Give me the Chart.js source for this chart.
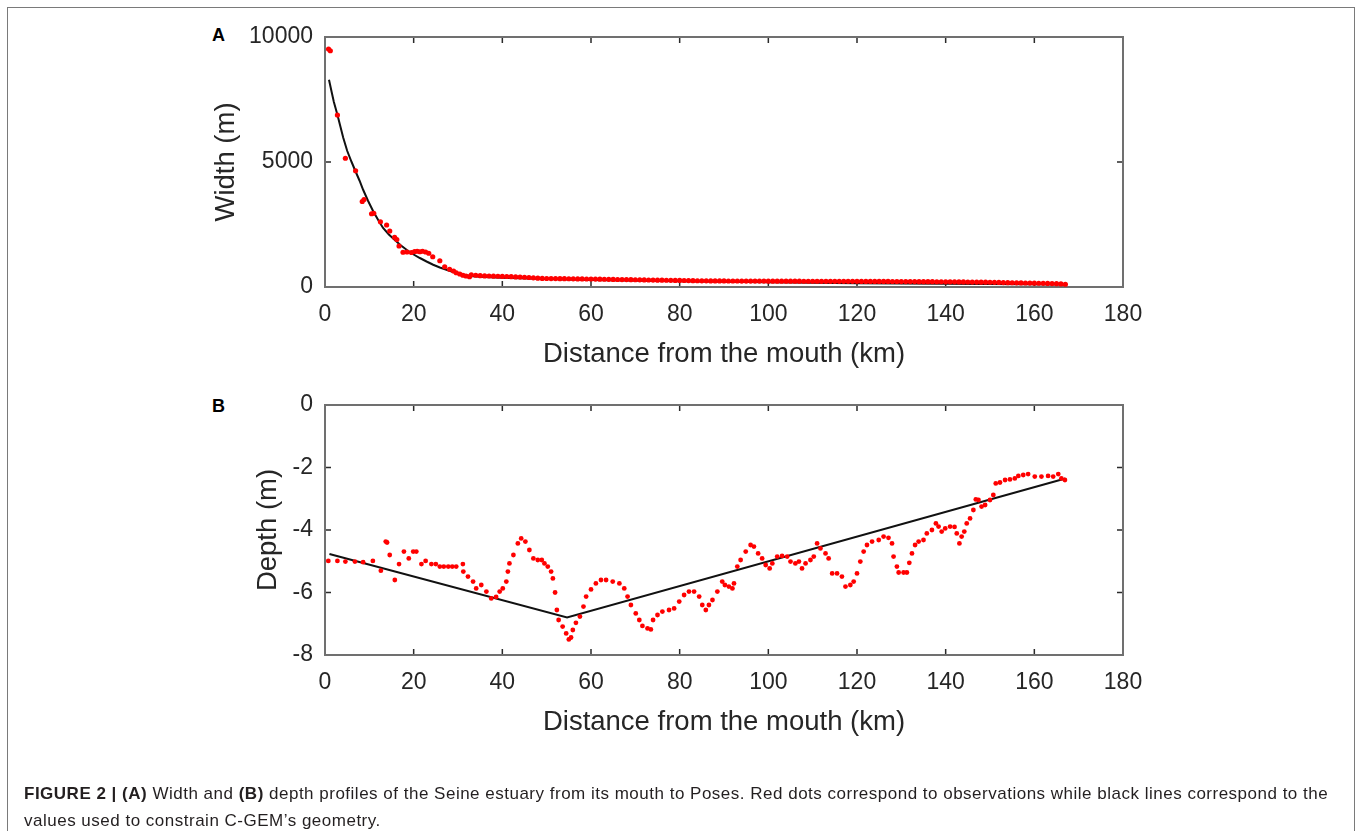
<!DOCTYPE html>
<html><head><meta charset="utf-8">
<script src="https://cdn.jsdelivr.net/npm/chart.js@4.4.1/dist/chart.umd.min.js"></script>
<style>
html,body{margin:0;padding:0;background:#fff;}
body{width:1360px;height:831px;position:relative;overflow:hidden;font-family:"Liberation Sans",Arial,sans-serif;}
#frame{position:absolute;left:7px;top:7px;width:1348px;height:860px;border:1.5px solid #7a7a7a;box-sizing:border-box;}
canvas.cv{position:absolute;left:0;top:0;}
.lab{position:absolute;font-weight:bold;font-size:18px;line-height:18px;color:#000;}
#cap{position:absolute;left:24px;top:780px;font-size:17px;letter-spacing:0.5px;line-height:27px;color:#231f20;white-space:nowrap;}
</style>
</head><body>
<div id="frame"></div>
<div class="lab" style="left:212px;top:26px;">A</div>
<div class="lab" style="left:212px;top:397px;">B</div>
<canvas id="cA" class="cv" width="1360" height="831"></canvas>
<canvas id="cB" class="cv" width="1360" height="831"></canvas>
<div id="cap"><b>FIGURE 2 | (A)</b> Width and <b>(B)</b> depth profiles of the Seine estuary from its mouth to Poses. Red dots correspond to observations while black lines correspond to the<br>values used to constrain C-GEM’s geometry.</div>
<script>
// ---------- Panel A : width ----------
const widthObsKm = [0.8,1.2,2.8,4.6,6.9,8.4,8.8,10.5,11.0,12.5,13.9,14.6,15.7,16.2,16.7,17.6,18.5,19.5,20.2,20.8,21.4,22.0,22.7,23.4,24.3,25.9,27.0,28.1,29.0,29.6,30.4,31.1,31.8,32.6,
33,34,35,36,37,38,39,40,41,42,43,44,45,46,47,48,49,50,51,52,53,54,55,56,57,58,59,60,61,62,63,64,65,66,67,68,69,70,
71,72,73,74,75,76,77,78,79,80,81,82,83,84,85,86,87,88,89,90,91,92,93,94,95,96,97,98,99,100,101,102,103,104,105,106,107,108,109,110,
111,112,113,114,115,116,117,118,119,120,121,122,123,124,125,126,127,128,129,130,131,132,133,134,135,136,137,138,139,140,
141,142,143,144,145,146,147,148,149,150,151,152,153,154,155,156,157,158,159,160,161,162,163,164,165,166,167];
const widthObsM = [9520,9450,6880,5150,4650,3420,3500,2930,2950,2610,2480,2240,1990,1900,1640,1390,1400,1380,1420,1430,1410,1430,1400,1350,1210,1050,810,710,640,570,520,470,440,410,
490,470,455,445,440,435,430,425,420,412,405,398,390,380,368,352,345,340,338,336,334,332,330,327,325,323,321,320,316,314,311,308,305,301,299,296,293,291,
287,284,281,278,275,272,270,267,265,262,260,257,254,251,249,247,245,244,243,242,241,240,240,239,238,238,237,236,236,235,235,234,234,233,233,232,232,231,231,230,
230,229,229,228,228,228,227,227,226,226,225,225,224,224,223,222,222,221,220,219,218,217,216,215,214,213,212,211,210,209,
207,206,204,203,201,199,197,195,192,190,186,182,178,174,170,167,164,160,157,154,150,146,142,138,133,125,110];
const widthFitKm = [0.9,1.5,2.0,2.8,3.5,4.1,5.0,6.0,6.9,7.8,8.6,9.7,10.9,12.0,13.1,14.4,15.75,17.0,18.4,19.9,21.4,22.9,24.4,25.9,27.4,28.9,30.4,31.9,33.4,36,40,50,60,80,100,120,140,167];
const widthFitM  = [8290,7800,7400,6890,6400,5980,5450,5000,4620,4250,3890,3450,3020,2680,2360,2100,1880,1680,1490,1310,1160,1020,890,780,690,600,530,470,425,395,370,315,275,225,185,150,125,105];
const widthTicksX = [0,20,40,60,80,100,120,140,160,180];
const widthTicksY = [0,5000,10000];

// ---------- Panel B : depth ----------
const depthObsKm = [0.75,2.8,4.6,6.75,8.6,10.8,12.6,13.7,14.0,14.6,15.75,16.7,17.8,18.9,19.9,20.6,21.75,22.7,24.0,25.0,25.9,26.8,27.8,28.7,29.6,31.1,31.2,32.25,33.4,34.1,35.25,36.4,37.5,38.6,39.4,40.1,40.9,41.25,41.6,42.5,43.5,44.25,45.2,46.1,47.0,48.0,48.9,49.5,50.25,51.0,51.4,51.9,52.3,52.7,53.6,54.4,55.0,55.5,55.9,56.6,57.5,58.3,58.9,60.0,61.1,62.25,63.4,64.9,66.4,67.5,68.25,69.0,70.1,70.9,71.6,72.75,73.5,74.0,75.0,76.1,77.6,78.75,79.9,81.0,82.1,83.25,84.4,85.1,85.9,86.6,87.4,88.5,89.6,90.2,91.1,91.9,92.25,93.0,93.75,94.9,96.0,96.75,97.7,98.6,99.4,100.3,100.9,102.0,103.1,104.25,105.0,106.1,106.9,107.6,108.4,109.5,110.25,111.0,111.75,112.9,113.6,114.4,115.5,116.6,117.4,118.5,119.25,120.0,120.75,121.5,122.25,123.4,124.9,126.0,127.1,127.9,128.25,129.0,129.4,130.5,131.25,131.8,132.4,133.1,133.9,135.0,135.75,136.9,137.8,138.4,139.1,139.9,141.0,142.0,142.5,143.1,143.6,144.2,144.75,145.5,146.25,146.8,147.4,148.1,148.9,150.0,150.75,151.3,152.25,153.4,154.5,155.6,156.4,157.5,158.6,160.1,161.6,163.1,164.25,165.4,166.1,166.9];
const depthObsM = [-4.99,-4.99,-5.01,-5.01,-5.03,-4.99,-5.30,-4.37,-4.40,-4.80,-5.60,-5.09,-4.69,-4.91,-4.69,-4.69,-5.09,-4.99,-5.09,-5.09,-5.17,-5.17,-5.17,-5.17,-5.17,-5.09,-5.33,-5.49,-5.65,-5.87,-5.76,-5.97,-6.19,-6.14,-5.97,-5.87,-5.65,-5.33,-5.07,-4.80,-4.43,-4.27,-4.37,-4.64,-4.91,-4.96,-4.96,-5.07,-5.17,-5.33,-5.55,-6.00,-6.56,-6.88,-7.09,-7.31,-7.50,-7.44,-7.20,-6.97,-6.77,-6.45,-6.13,-5.90,-5.71,-5.60,-5.60,-5.65,-5.71,-5.87,-6.13,-6.40,-6.67,-6.88,-7.07,-7.15,-7.18,-6.88,-6.72,-6.61,-6.56,-6.51,-6.29,-6.08,-5.97,-5.97,-6.13,-6.40,-6.56,-6.40,-6.24,-5.97,-5.65,-5.76,-5.81,-5.87,-5.71,-5.17,-4.96,-4.69,-4.48,-4.53,-4.75,-4.91,-5.12,-5.23,-5.07,-4.85,-4.83,-4.85,-5.01,-5.07,-5.01,-5.23,-5.07,-4.96,-4.85,-4.43,-4.59,-4.75,-4.91,-5.39,-5.39,-5.49,-5.81,-5.76,-5.65,-5.39,-5.01,-4.69,-4.48,-4.37,-4.32,-4.21,-4.25,-4.43,-4.85,-5.17,-5.36,-5.36,-5.36,-5.05,-4.75,-4.48,-4.37,-4.32,-4.11,-4.00,-3.79,-3.89,-4.05,-3.95,-3.89,-3.90,-4.11,-4.43,-4.21,-4.05,-3.79,-3.63,-3.36,-3.02,-3.04,-3.25,-3.20,-3.04,-2.88,-2.51,-2.48,-2.40,-2.38,-2.35,-2.27,-2.24,-2.21,-2.29,-2.29,-2.27,-2.29,-2.21,-2.35,-2.40];
const depthFitKm = [1,54.6,167];
const depthFitM  = [-4.77,-6.8,-2.35];
const depthTicksY = [-8,-6,-4,-2,0];

const xTitle = 'Distance from the mouth (km)';
const yTitleA = 'Width (m)';
const yTitleB = 'Depth (m)';

const FONT = '"Liberation Sans", Arial, Helvetica, sans-serif';
const TXT = '#262626';

const pts = (xs, ys) => xs.map((x,i)=>({x:x, y:ys[i]}));

const boxTicks = {
  id:'boxTicks',
  beforeDatasetsDraw(chart){
    const {ctx, chartArea:a, scales:{x, y}} = chart;
    ctx.save();
    ctx.strokeStyle = '#2a2a2a'; ctx.lineWidth = 1.5;
    const L = 6;
    ctx.beginPath();
    x.ticks.forEach(t=>{const p = x.getPixelForValue(t.value);
      ctx.moveTo(p, a.bottom); ctx.lineTo(p, a.bottom - L);
      ctx.moveTo(p, a.top); ctx.lineTo(p, a.top + L);});
    y.ticks.forEach(t=>{const p = y.getPixelForValue(t.value);
      ctx.moveTo(a.left, p); ctx.lineTo(a.left + L, p);
      ctx.moveTo(a.right, p); ctx.lineTo(a.right - L, p);});
    ctx.stroke();
    ctx.strokeStyle = '#707070'; ctx.lineWidth = 2;
    ctx.strokeRect(a.left, a.top, a.right - a.left, a.bottom - a.top);
    ctx.restore();
  }
};

function makeChart(id, obs, fit, cfg){
  return new Chart(document.getElementById(id), {
    type:'scatter',
    data:{datasets:[
      {data:obs, pointRadius:cfg.r, pointHoverRadius:cfg.r, pointBackgroundColor:'#ff0000', pointBorderWidth:0, borderWidth:0, order:0},
      {data:fit, showLine:true, borderColor:'#111', borderWidth:2, pointRadius:0, pointHoverRadius:0, fill:false, tension:0, order:1}
    ]},
    options:{
      responsive:false, animation:false, devicePixelRatio:1,
      layout:{padding:cfg.pad},
      plugins:{legend:{display:false}, tooltip:{enabled:false}},
      events:[],
      scales:{
        x:{type:'linear', min:0, max:180, afterBuildTicks:s=>{s.ticks = cfg.xt.map(v=>({value:v}));},
           grid:{display:false, drawTicks:false, tickLength:0}, border:{display:false},
           ticks:{padding:14, color:TXT, font:{family:FONT, size:23}, maxRotation:0, autoSkip:false, callback:v=>String(v)},
           title:{display:true, text:xTitle, color:TXT, font:{family:FONT, size:27.5}},
           afterFit:s=>{s.height = cfg.xh;}},
        y:{type:'linear', min:cfg.ymin, max:cfg.ymax, afterBuildTicks:s=>{s.ticks = cfg.yt.map(v=>({value:v}));},
           grid:{display:false, drawTicks:false, tickLength:0}, border:{display:false},
           ticks:{padding:12, color:TXT, font:{family:FONT, size:23}, autoSkip:false, callback:v=>String(v)},
           title:{display:true, text:cfg.yTitle, color:TXT, font:{family:FONT, size:27.5}},
           afterFit:s=>{s.width = cfg.yw;}}
      }
    },
    plugins:[boxTicks]
  });
}

makeChart('cA', pts(widthObsKm, widthObsM), pts(widthFitKm, widthFitM), {
  r:2.6, pad:{left:205.5, top:37, right:237, bottom:456.5}, xh:87.5, yw:119.5,
  ymin:0, ymax:10000, xt:widthTicksX, yt:widthTicksY, yTitle:yTitleA
});
makeChart('cB', pts(depthObsKm, depthObsM), pts(depthFitKm, depthFitM), {
  r:2.4, pad:{left:247.5, top:405, right:237, bottom:88.5}, xh:87.5, yw:77.5,
  ymin:-8, ymax:0, xt:widthTicksX, yt:depthTicksY, yTitle:yTitleB
});
</script>
</body></html>
